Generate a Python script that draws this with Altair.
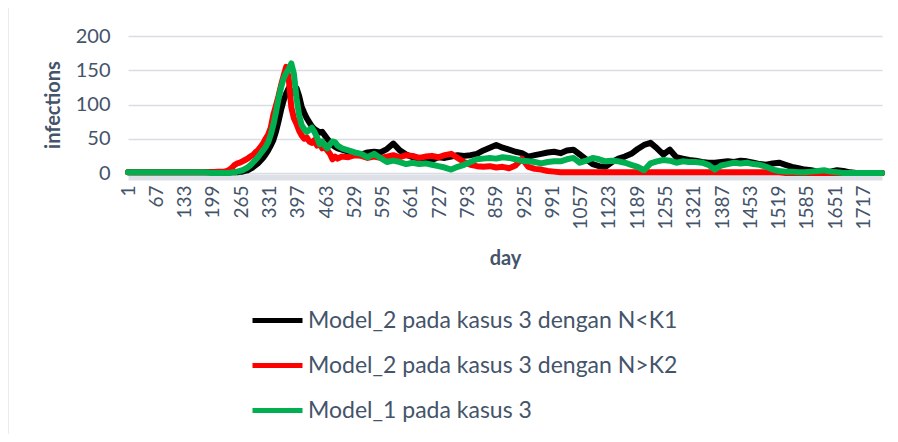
import altair as alt
import pandas as pd

# sampled days (x categories)
days = list(range(1, 227, 15)) + list(range(232, 491, 6)) + list(range(500, 1761, 15))

black_a = [1, 1, 1, 1, 1, 1, 1, 1, 1, 1, 1, 1, 1, 1, 1, 1]
red_a = [1, 1, 1, 1, 1, 1, 1, 1, 1, 1, 1, 1, 1, 1, 2, 2]
green_a = [1, 1, 1, 1, 1, 1, 1, 1, 1, 1, 1, 1, 1, 0, 0, 0]

black_b = [1, 1, 1, 1, 1, 2, 2, 3, 4, 6, 8, 11, 14, 18, 22, 27, 33, 40, 48, 60,
           75, 92, 106, 116, 124, 119, 117, 124, 113, 97, 88, 80, 74, 68, 64,
           62, 59, 60, 55, 50, 45, 41, 38, 36]
red_b = [3, 5, 8, 12, 14, 15, 17, 19, 21, 24, 26, 30, 33, 38, 43, 50, 56, 66, 85, 98,
         112, 128, 142, 155, 138, 96, 80, 72, 62, 55, 50, 52, 46, 44, 48,
         40, 44, 36, 38, 33, 28, 20, 24, 21]
green_b = [0, 0, 1, 1, 2, 3, 4, 6, 8, 11, 15, 19, 23, 28, 33, 38, 45, 56, 70, 88,
           108, 125, 138, 146, 152, 160, 145, 110, 85, 70, 64, 60, 63, 66, 60,
           52, 42, 46, 40, 36, 42, 46, 45, 40]

black_c = [34, 31, 29, 27, 30, 31, 30, 35, 43, 33, 27, 23, 21, 20, 19,
           23, 22, 24, 26, 25, 26, 28, 33, 37, 41, 37, 34, 31, 29, 24,
           26, 28, 30, 31, 29, 33, 34, 27, 20, 13, 10, 9, 16, 21, 24,
           28, 35, 41, 44, 36, 27, 34, 23, 21, 19, 18, 16, 15, 15, 16,
           17, 16, 18, 17, 15, 13, 12, 14, 15, 12, 9, 7, 5, 4, 2,
           1, 2, 4, 3, 1, 0, 0, 0, 0, 0]
red_c = [24, 23, 26, 25, 22, 24, 22, 24, 26, 23, 26, 25, 22, 24, 25,
         23, 26, 28, 22, 16, 12, 10, 9, 10, 8, 9, 7, 11, 21, 9,
         6, 5, 3, 2, 1, 1, 1, 1, 1, 1, 1, 1, 1, 1, 1,
         1, 1, 1, 1, 1, 1, 1, 1, 1, 1, 1, 1, 1, 1, 1,
         1, 1, 1, 1, 1, 1, 1, 1, 1, 0, 0, 0, 0, 0, 0,
         0, 0, 0, 0, 0, 0, 0, 0, 0, 0]
green_c = [36, 33, 30, 28, 23, 28, 22, 16, 18, 16, 13, 15, 13, 14, 12,
           10, 8, 5, 9, 12, 16, 20, 21, 22, 21, 23, 22, 20, 18, 17,
           16, 14, 16, 17, 17, 20, 22, 15, 18, 22, 20, 17, 18, 17, 15,
           12, 9, 4, 14, 17, 19, 18, 15, 17, 16, 16, 15, 12, 5, 11,
           13, 15, 14, 15, 13, 12, 9, 5, 3, 2, 2, 1, 1, 2, 3,
           4, 2, 1, 0, 0, 0, 0, 0, 0, 0]

black = black_a + black_b + black_c
red = red_a + red_b + red_c
green = green_a + green_b + green_c

names = ["Model_2 pada kasus 3 dengan N<K1",
         "Model_2 pada kasus 3 dengan N>K2",
         "Model_1 pada kasus 3"]
colors = ["#000000", "#ff0000", "#00b050"]
x_ticks = list(range(1, 1718, 66))
y_ticks = [0, 50, 100, 150, 200]

rows = []
for name, vals in zip(names, [black, red, green]):
    for d, v in zip(days, vals):
        rows.append({"day": d, "infections": v, "series": name})
df = pd.DataFrame(rows)

TEXT = "#44546a"
FONT = "Lato"

lines = alt.Chart(df).mark_line(strokeWidth=6, strokeJoin="round", strokeCap="round").encode(
    x=alt.X("day:Q",
            scale=alt.Scale(domain=[1, 1760], nice=False, zero=False),
            axis=alt.Axis(values=x_ticks, format="d", labelAngle=-90, title="day", grid=False,
                          ticks=False, domainColor="#dde1e7", domainWidth=6, offset=4,
                          labelPadding=8, labelFontSize=19, labelColor=TEXT, labelFont=FONT,
                          labelFlush=False, labelOverlap=False,
                          titleFontSize=20, titleFontWeight="bold", titleColor=TEXT,
                          titleFont=FONT, titleY=81, titleBaseline="middle")),
    y=alt.Y("infections:Q",
            scale=alt.Scale(domain=[0, 200], nice=False),
            axis=alt.Axis(values=y_ticks, title="infections", ticks=False, domain=False,
                          gridColor="#d9dde3", gridWidth=1.5, labelPadding=18,
                          labelFontSize=20, labelColor=TEXT, labelFont=FONT,
                          titleFontSize=20, titleFontWeight="bold", titleColor=TEXT,
                          titleFont=FONT, titleX=-75, titleBaseline="middle")),
    color=alt.Color("series:N", sort=names,
                    scale=alt.Scale(domain=names, range=colors),
                    legend=alt.Legend(orient="none", legendX=122, legendY=257, title=None,
                                      symbolType="stroke", symbolSize=2500,
                                      symbolStrokeWidth=5, labelFontSize=23,
                                      labelColor=TEXT, labelFont=FONT, labelOffset=3,
                                      rowPadding=5, labelLimit=0)),
)

border = alt.Chart(pd.DataFrame({"b": [0]})).mark_rule(color="#d9d9d9", strokeWidth=1).encode(
    x=alt.value(-120), y=alt.value(-36), y2=alt.value(400)
)

chart = alt.layer(lines, border).properties(
    width=754, height=137,
    padding={"left": 120, "top": 28, "right": 8, "bottom": 261},
    autosize=alt.AutoSizeParams(type="none"),
    background="white",
).configure_view(stroke=None)

chart.save("out.html", embed_options={"renderer": "svg", "actions": False})
